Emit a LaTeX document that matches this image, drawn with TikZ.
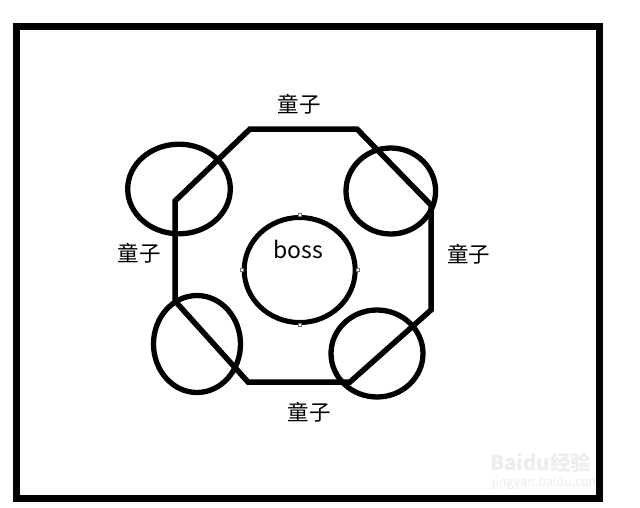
\documentclass[tikz,border=0pt]{standalone}
\usepackage{fontspec}
\setmainfont{Noto Sans CJK SC}
\usetikzlibrary{shapes.geometric}
\tikzset{
  thick line/.style={line width=5.5pt, line join=miter, black},
  ring/.style={ellipse, draw, line width=5.3pt, inner sep=0pt, minimum width=#1},
  lab/.style={font=\fontsize{21.5}{22}\selectfont, inner sep=0pt},
  handle/.style={draw=black!55, fill=white, line width=0.5pt, minimum size=3pt, inner sep=0pt},
  wm/.style={text=black!7, inner sep=0pt}
}
\begin{document}
\begin{tikzpicture}[x=1pt,y=-1pt]
\useasboundingbox (0,0) rectangle (640,507);
\fill[white] (0,0) rectangle (640,507);
% watermark
\node[wm, font=\fontsize{20.5}{21}\selectfont\bfseries, anchor=west] (wm1) at (490,462) {Baidu经验};
\node[wm, font=\fontsize{12.5}{13}\selectfont, anchor=west] (wm2) at (492,483) {jingyan.baidu.com};
% frame
\coordinate (f1) at (16,26.5);
\coordinate (f2) at (599.5,498.5);
\draw[line width=7pt, line join=miter] (f1) rectangle (f2);
% octagon
\coordinate (p1) at (250,129);
\coordinate (p2) at (357,129);
\coordinate (p3) at (431,205);
\coordinate (p4) at (431,310);
\coordinate (p5) at (350,382);
\coordinate (p6) at (248,382);
\coordinate (p7) at (175,301);
\coordinate (p8) at (175,201);
\draw[thick line] (p1) -- (p2) -- (p3) -- (p4) -- (p5) -- (p6) -- (p7) -- (p8) -- cycle;
% rings
\node[ring=102.6pt, minimum height=89.6pt] (ul) at (179,189) {};
\node[ring=89.6pt, minimum height=86pt] (ur) at (390.8,191) {};
\node[ring=87pt, minimum height=97pt] (ll) at (197,344) {};
\node[ring=92pt, minimum height=87pt] (lr) at (377,353.5) {};
% boss
\node[ellipse, draw, line width=5pt, inner sep=0pt, minimum width=111pt, minimum height=105pt] (boss) at (299.7,270) {};
\node[font=\fontsize{23}{24}\selectfont, inner sep=0pt] (bosstext) at (298.5,249) {boss};
\node[handle] (h1) at (boss.north) {};
\node[handle] (h2) at (boss.south) {};
\node[handle] (h3) at (boss.west) {};
\node[handle] (h4) at (boss.east) {};
% labels
\node[lab] (ltop) at (299,104.5) {童子};
\node[lab] (lleft) at (139,253) {童子};
\node[lab] (lright) at (468.5,254) {童子};
\node[lab] (lbottom) at (309,412) {童子};
\end{tikzpicture}
\end{document}
